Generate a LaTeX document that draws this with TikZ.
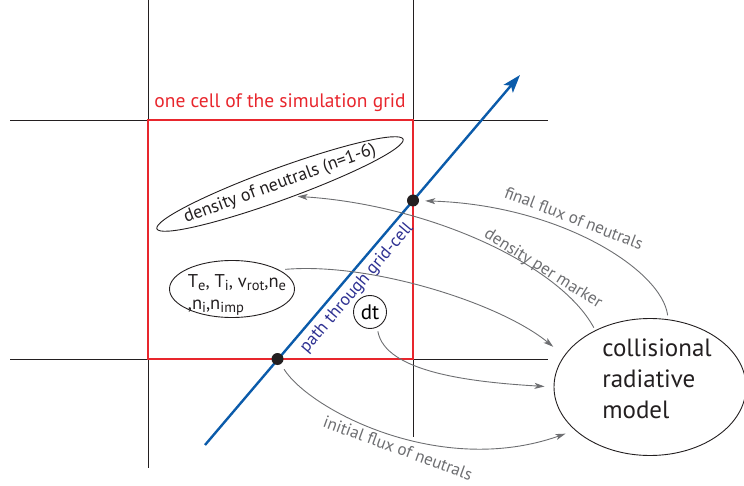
\documentclass[tikz,border=0pt]{standalone}
\usepackage{fontspec}
\setmainfont{PT Sans}
\usetikzlibrary{arrows.meta,shapes.geometric}
\definecolor{cellred}{HTML}{E8262D}
\definecolor{pathblue}{HTML}{0B5BAA}
\definecolor{labelblue}{HTML}{2E3192}
\definecolor{fluxgray}{HTML}{6D6E71}
\definecolor{inkblack}{HTML}{231F20}
\newcommand{\lowr}[1]{\raisebox{-0.35ex}{\fontsize{14.5}{14.5}\selectfont #1}}

\begin{document}
\begin{tikzpicture}[x=1pt,y=-1pt,
  gridline/.style={inkblack,line width=0.9pt},
  flux/.style={fluxgray,line width=0.9pt,-{Stealth[length=10pt,width=6pt,inset=2.5pt]}},
  fluxlabel/.style={fluxgray,font=\fontsize{17}{17}\selectfont},
  blob/.style={draw=inkblack,ellipse,line width=0.9pt,inner sep=0pt},
  dot/.style={circle,fill=inkblack,minimum size=12pt,inner sep=0pt}]

\useasboundingbox (0,0) rectangle (744,486);

% Grid
\draw[gridline] (10,120) -- (548,120);
\draw[gridline] (10,359) -- (548,359);
\draw[gridline] (148,0) -- (148,468);
\draw[gridline] (413,0) -- (413,437);

% Cell
\draw[cellred,line width=2.2pt] (148,120) rectangle (413,359);
\node[cellred,font=\fontsize{19.5}{19.5}\selectfont] (celltitle) at (280,103) {one cell of the simulation grid};

% Path
\coordinate (pathstart) at (205,445);
\coordinate (pathend) at (520,75);
\draw[pathblue,line width=2.4pt,-{Stealth[length=18pt,width=12pt,inset=4pt]}] (pathstart) -- (pathend);
\node[labelblue,rotate=49.6,font=\fontsize{17.5}{17.5}\selectfont] (pathlabel) at (357,288) {path through grid-cell};
\node[dot] (pin) at (277.5,359) {};
\node[dot] (pout) at (413,200.5) {};

% Quantities in the cell
\node[blob,rotate=20,minimum width=262,minimum height=32] (dens) at (280,184) {};
\node[inkblack,rotate=20,font=\fontsize{18}{18}\selectfont] (denstext) at (dens.center) {density of neutrals (n=1-6)};

\node[blob,minimum width=125,minimum height=57] (plasma) at (232,289) {};
\node[inkblack,align=left,font=\fontsize{18.5}{22}\selectfont] (plasmatext) at (237,295)
  {T\lowr{e}, T\lowr{i}, v\lowr{rot},n\lowr{e}\\,n\lowr{i},n\lowr{imp}};

\node[draw=inkblack,circle,line width=0.9pt,minimum size=33,inner sep=0pt,
  font=\fontsize{21}{21}\selectfont] (dt) at (370,312) {dt};

% Model
\node[blob,minimum width=192,minimum height=137] (crm) at (650,387) {};
\node[inkblack,align=left,font=\fontsize{25}{31}\selectfont] (crmtext) at (657,379)
  {collisional\\radiative\\model};

% Exchanges
\draw[flux,shorten <=4pt,shorten >=6pt] (crm.75) .. controls (662,270) and (560,205) .. (pout);
\node[fluxlabel,rotate=-21] (finallabel) at (574,218) {final flux of neutrals};

\draw[flux,shorten <=3pt,shorten >=3pt] (crm.134) .. controls (560,265) and (430,205) .. (dens.-60);
\node[fluxlabel,rotate=-32] (markerlabel) at (543,269) {density per marker};

\draw[flux,shorten <=6pt,shorten >=14pt] (plasma.22) .. controls (370,262) and (500,303) .. (crm.160);

\draw[flux,shorten <=4pt,shorten >=9pt] (dt.-65) .. controls (385,372) and (470,382) .. (crm.west);

\draw[flux,shorten <=6pt,shorten >=10pt] (pin) .. controls (310,410) and (440,478) .. (crm.210);
\node[fluxlabel,rotate=-20] (initiallabel) at (398,448) {initial flux of neutrals};

\end{tikzpicture}
\end{document}
